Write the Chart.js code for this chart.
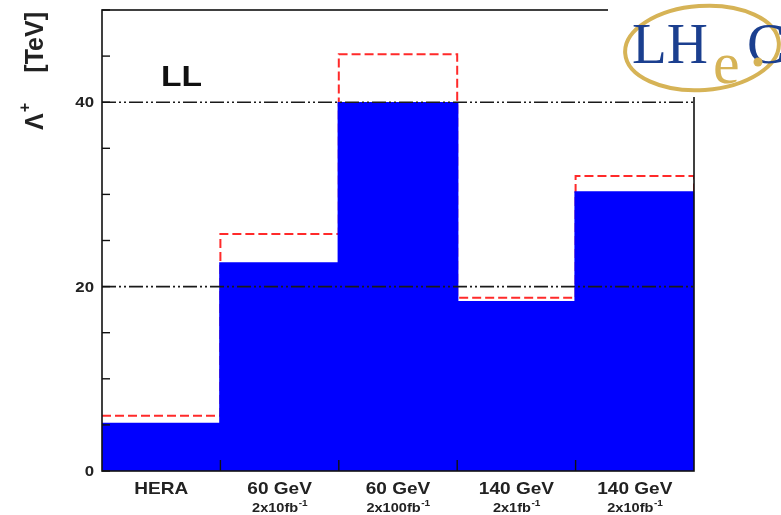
<!DOCTYPE html>
<html>
<head>
<meta charset="utf-8">
<script src="https://cdn.jsdelivr.net/npm/chart.js@4"></script>
<style>
  body { margin: 0; background: #fff; }
  #wrap { position: relative; width: 781px; height: 515px; }
  #logo { position: absolute; left: 608px; top: 0; width: 173px; height: 97px; background: #fff; }
</style>
</head>
<body>
<div id="wrap">
  <canvas id="lambdaChart" width="781" height="515"></canvas>
  <div id="logo">
    <svg width="173" height="97" xmlns="http://www.w3.org/2000/svg">
      <ellipse cx="94" cy="48" rx="77" ry="42" fill="none" stroke="#d6b356" stroke-width="4" transform="rotate(-4 94 48)"/>
      <text x="24" y="63" font-family="Liberation Serif" font-size="57" fill="#1b3f8f">LH</text>
      <text x="105" y="83" font-family="Liberation Serif" font-size="60" fill="#d6b356">e</text>
      <text x="139" y="63" font-family="Liberation Serif" font-size="57" fill="#1b3f8f">C</text>
      <circle cx="150" cy="62" r="4.5" fill="#d6b356"/>
    </svg>
  </div>
</div>
<script>
// valeurs (TeV)
const categories = ["HERA", "60 GeV", "60 GeV", "140 GeV", "140 GeV"];
const lumiLabels = ["", "2x10fb", "2x100fb", "2x1fb", "2x10fb"];
const lambdaValues = [5.1, 22.5, 39.9, 18.3, 30.2];
const upperValues = [6.0, 25.7, 45.2, 18.8, 32.0];
const refLines = [20, 40];
const yLabelValues = [0, 20, 40];
const yMinorStep = 5;
const yMax = 50;

// histogramme en escalier pour la ligne rouge
const stepPoints = upperValues.map((v, i) => ({ x: i, y: v }));
stepPoints.push({ x: upperValues.length, y: upperValues[upperValues.length - 1] });
stepPoints.push({ x: upperValues.length, y: 0 });

const refDatasets = refLines.map((v) => ({
  type: "line",
  xAxisID: "x2",
  data: [{ x: 0, y: v }, { x: categories.length, y: v }],
  borderColor: "#1a1a1a",
  borderWidth: 1.6,
  borderDash: [14, 3, 2, 3, 2, 3],
  pointRadius: 0,
  order: 0,
}));

const FONT = "'Liberation Sans', Arial, sans-serif";
const STRETCH = 1.12; // le texte de la figure est un peu étiré en largeur

function wideText(ctx, text, px, py) {
  ctx.save();
  ctx.translate(px, py);
  ctx.scale(STRETCH, 1);
  ctx.fillText(text, 0, 0);
  ctx.restore();
}

const framePlugin = {
  id: "frame",
  afterDatasetsDraw(chart) {
    const ctx = chart.ctx;
    const a = chart.chartArea;
    const x = chart.scales.x;
    const x2 = chart.scales.x2;
    const y = chart.scales.y;
    ctx.save();
    ctx.strokeStyle = "#111";
    ctx.lineWidth = 1.6;
    ctx.strokeRect(a.left, a.top, a.right - a.left, a.bottom - a.top);

    // petits ticks de l'axe y (vers l'intérieur)
    ctx.lineWidth = 1.4;
    for (let v = 0; v <= yMax; v += yMinorStep) {
      const py = y.getPixelForValue(v);
      ctx.beginPath();
      ctx.moveTo(a.left, py);
      ctx.lineTo(a.left + 8, py);
      ctx.stroke();
    }
    // ticks de l'axe x entre les bins
    for (let i = 1; i < categories.length; i++) {
      const px = x2.getPixelForValue(i);
      ctx.beginPath();
      ctx.moveTo(px, a.bottom);
      ctx.lineTo(px, a.bottom - 11);
      ctx.stroke();
    }

    // labels y
    ctx.fillStyle = "#222";
    ctx.font = "bold 15px " + FONT;
    ctx.textAlign = "right";
    ctx.textBaseline = "middle";
    yLabelValues.forEach((v) => {
      wideText(ctx, String(v), a.left - 8, y.getPixelForValue(v) + 1);
    });

    // labels x sur deux lignes
    ctx.textBaseline = "alphabetic";
    categories.forEach((c, i) => {
      const cx = x.getPixelForValue(i);
      ctx.textAlign = "center";
      ctx.font = "bold 17px " + FONT;
      wideText(ctx, c, cx, a.bottom + 23);
      if (lumiLabels[i]) {
        ctx.font = "bold 13px " + FONT;
        const w1 = ctx.measureText(lumiLabels[i]).width * STRETCH;
        ctx.font = "bold 9px " + FONT;
        const w2 = ctx.measureText("-1").width * STRETCH;
        const start = cx - (w1 + w2) / 2;
        ctx.textAlign = "left";
        ctx.font = "bold 13px " + FONT;
        wideText(ctx, lumiLabels[i], start, a.bottom + 41);
        ctx.font = "bold 9px " + FONT;
        wideText(ctx, "-1", start + w1 + 0.5, a.bottom + 35);
      }
    });

    // texte LL
    ctx.fillStyle = "#111";
    ctx.font = "bold 30px " + FONT;
    ctx.textAlign = "left";
    wideText(ctx, "LL", 161, 86);

    // titre y : Λ+  [TeV]
    ctx.translate(43, 0);
    ctx.rotate(-Math.PI / 2);
    ctx.fillStyle = "#222";
    ctx.font = "bold 25px " + FONT;
    ctx.textAlign = "left";
    ctx.fillText("Λ", -130, 0);
    const lw = ctx.measureText("Λ").width;
    ctx.font = "bold 16px " + FONT;
    ctx.fillText("+", -130 + lw + 1, -13);
    ctx.font = "bold 25px " + FONT;
    ctx.textAlign = "right";
    ctx.fillText("[TeV]", -12, 0);
    ctx.restore();
  },
};

new Chart(document.getElementById("lambdaChart"), {
  type: "bar",
  data: {
    labels: categories,
    datasets: [
      ...refDatasets,
      {
        label: "Λ+",
        data: lambdaValues,
        backgroundColor: "#0000ff",
        borderWidth: 0,
        barPercentage: 1,
        categoryPercentage: 1,
        grouped: false,
        inflateAmount: 1.2,
        order: 1,
      },
      {
        type: "line",
        label: "limite",
        xAxisID: "x2",
        data: stepPoints,
        stepped: "before",
        borderColor: "#ff2a2a",
        borderWidth: 2,
        borderDash: [9, 4],
        pointRadius: 0,
        fill: false,
        order: 2,
      },
    ],
  },
  options: {
    responsive: false,
    animation: false,
    layout: { padding: { left: 102, top: 10, right: 87, bottom: 44 } },
    scales: {
      x: { type: "category", offset: true, display: false },
      x2: { type: "linear", min: 0, max: categories.length, offset: false, display: false },
      y: { min: 0, max: yMax, display: false },
    },
    plugins: {
      legend: { display: false },
      tooltip: { enabled: false },
    },
  },
  plugins: [framePlugin],
});
</script>
</body>
</html>
